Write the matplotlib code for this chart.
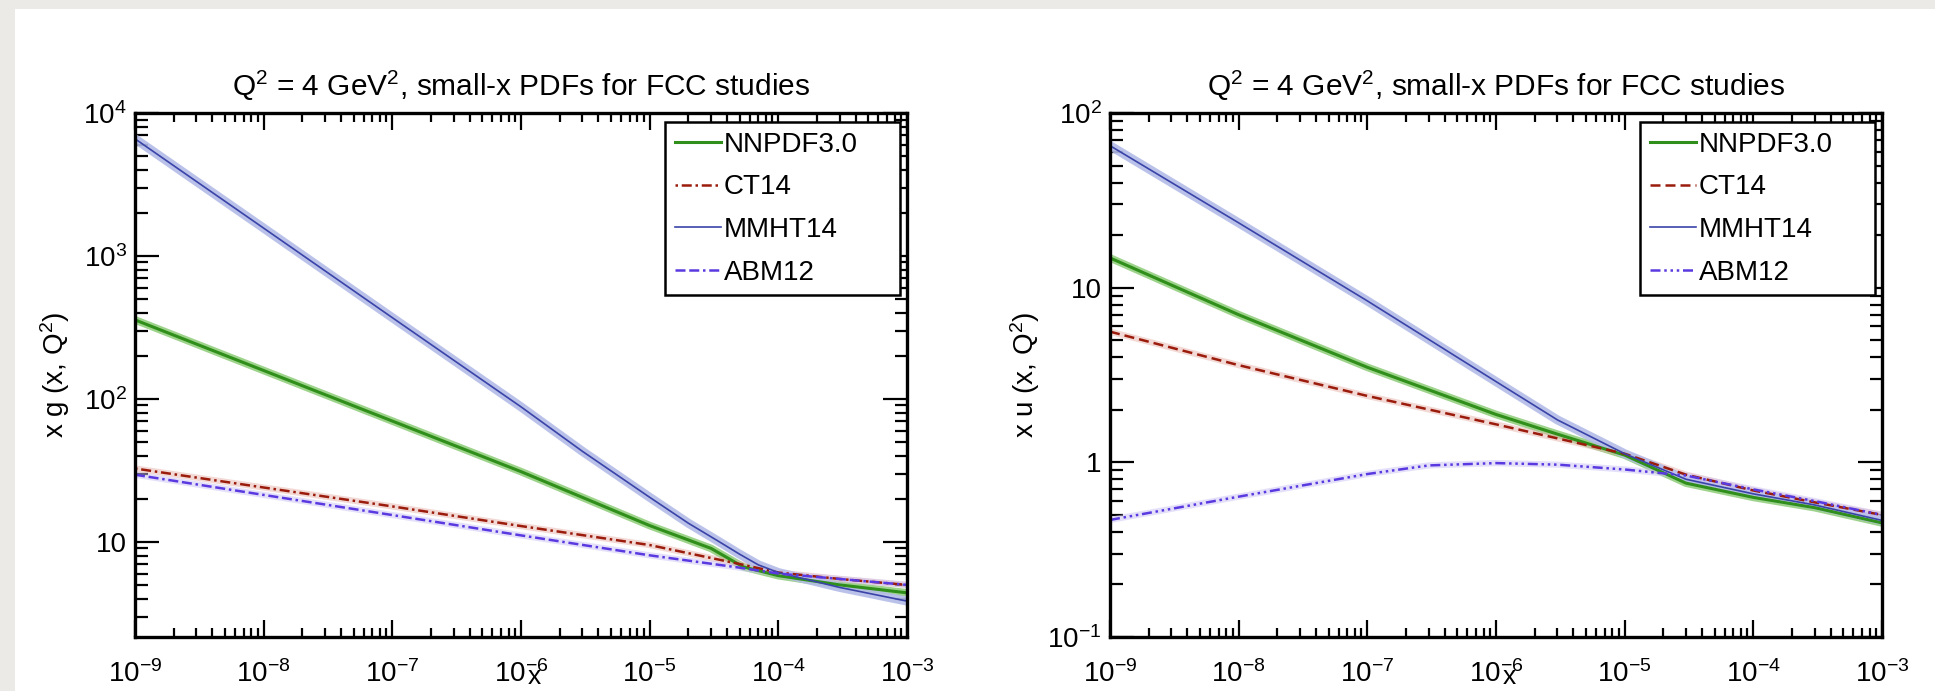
import numpy as np
import matplotlib.pyplot as plt
from matplotlib.ticker import LogLocator, FuncFormatter, NullFormatter
from matplotlib.patches import Rectangle

plt.rcParams['font.family'] = ['Liberation Sans', 'DejaVu Sans']
plt.rcParams['mathtext.fontset'] = 'custom'
plt.rcParams['mathtext.rm'] = 'Liberation Sans'
plt.rcParams['mathtext.it'] = 'Liberation Sans:italic'
plt.rcParams['mathtext.bf'] = 'Liberation Sans:bold'

# --- gluon, x g(x, Q^2) ---
x_nn_g = [1e-9, 1e-8, 1e-7, 1e-6, 1e-5, 3e-5, 5.3e-5, 1e-4, 3e-4, 1e-3]
y_nn_g = [357, 158, 70, 31, 13, 9.0, 6.7, 5.8, 5.0, 4.4]
x_ct_g = [1e-9, 1e-8, 1e-7, 1e-6, 1e-5, 5e-5, 1e-4, 3e-4, 1e-3]
y_ct_g = [32.6, 24.0, 17.7, 12.9, 9.5, 7.0, 6.1, 5.5, 5.0]
x_mm_g = [1e-9, 1e-8, 1e-7, 1e-6, 3e-6, 1e-5, 2e-5, 3.3e-5, 5e-5, 7e-5, 1e-4, 3e-4, 1e-3]
y_mm_g = [6600, 1565, 370, 88, 43, 20.5, 13.5, 10.3, 8.2, 6.9, 6.1, 4.8, 3.85]
x_abm_g = [1e-9, 1e-8, 1e-7, 1e-6, 1e-5, 5e-5, 1e-4, 3e-4, 1e-3]
y_abm_g = [29.5, 21.3, 15.4, 11.1, 8.05, 6.6, 6.0, 5.5, 5.0]

# --- up quark, x u(x, Q^2) ---
x_nn_u = [1e-9, 1e-8, 1e-7, 1e-6, 3e-6, 1e-5, 3e-5, 1e-4, 3e-4, 1e-3]
y_nn_u = [14.8, 7.0, 3.5, 1.88, 1.45, 1.1, 0.76, 0.63, 0.55, 0.45]
x_ct_u = [1e-9, 1e-8, 1e-7, 1e-6, 1e-5, 3e-5, 1e-4, 3e-4, 1e-3]
y_ct_u = [5.6, 3.6, 2.4, 1.65, 1.12, 0.85, 0.69, 0.59, 0.50]
x_mm_u = [1e-9, 1e-8, 1e-7, 1e-6, 3e-6, 1e-5, 3e-5, 1e-4, 3e-4, 1e-3]
y_mm_u = [65, 23.5, 8.4, 2.9, 1.75, 1.12, 0.80, 0.66, 0.57, 0.465]
x_abm_u = [1e-9, 1e-8, 1e-7, 3e-7, 1e-6, 3e-6, 1e-5, 3e-5, 1e-4, 3e-4, 1e-3]
y_abm_u = [0.468, 0.636, 0.857, 0.96, 0.99, 0.97, 0.91, 0.84, 0.70, 0.60, 0.50]

labels = ["NNPDF3.0", "CT14", "MMHT14", "ABM12"]
title = r"Q$^2$ = 4 GeV$^2$, small-x PDFs for FCC studies"

fig = plt.figure(figsize=(19.35, 6.91), dpi=100, facecolor='#eceae7')
fig.add_artist(Rectangle((15 / 1935, 0), 1, 1 - 9 / 691, transform=fig.transFigure,
                         facecolor='white', edgecolor='none', zorder=-10))

ax1 = fig.add_axes([135 / 1935, 54 / 691, 772 / 1935, 524 / 691])
ax2 = fig.add_axes([1110 / 1935, 54 / 691, 772 / 1935, 524 / 691])


def fmt(v, pos):
    e = int(round(np.log10(v)))
    if e == 0:
        return "1"
    if e == 1:
        return "10"
    return r"$10^{%d}$" % e


def draw(ax, xs, ys, styles, ylim, ylabel):
    c_nn, c_ct, c_mm, c_abm = '#2f8f1a', '#9b1c0c', '#3a44a8', '#5a3ae0'
    ls_ct, ls_abm = styles
    # light bands behind the central lines
    ax.plot(xs[0], ys[0], color='#86c870', lw=5.5, alpha=0.8)
    ax.plot(xs[1], ys[1], color='#e6b4ac', lw=4.5, alpha=0.5)
    ax.plot(xs[2], ys[2], color='#b4bce8', lw=6.5, alpha=0.9)
    ax.plot(xs[3], ys[3], color='#cbc2f5', lw=4.5, alpha=0.5)
    ax.plot(xs[0], ys[0], color=c_nn, lw=2.2, label=labels[0])
    ax.plot(xs[1], ys[1], color=c_ct, lw=1.8, ls=ls_ct, label=labels[1])
    ax.plot(xs[2], ys[2], color=c_mm, lw=1.2, label=labels[2])
    ax.plot(xs[3], ys[3], color=c_abm, lw=1.8, ls=ls_abm, label=labels[3])

    ax.set_xscale('log')
    ax.set_yscale('log')
    ax.set_xlim(1e-9, 1e-3)
    ax.set_ylim(*ylim)
    ax.xaxis.set_major_locator(LogLocator(base=10, numticks=20))
    ax.xaxis.set_minor_locator(LogLocator(base=10, subs=np.arange(2, 10), numticks=20))
    ax.yaxis.set_major_locator(LogLocator(base=10, numticks=20))
    ax.yaxis.set_minor_locator(LogLocator(base=10, subs=np.arange(2, 10), numticks=20))
    ax.xaxis.set_major_formatter(FuncFormatter(fmt))
    ax.yaxis.set_major_formatter(FuncFormatter(fmt))
    ax.xaxis.set_minor_formatter(NullFormatter())
    ax.yaxis.set_minor_formatter(NullFormatter())
    ax.tick_params(which='both', direction='in', top=True, right=True, width=1.6,
                   labelsize=20, colors='black')
    ax.tick_params(axis='x', which='major', length=12, pad=17)
    ax.tick_params(axis='x', which='minor', length=6.5)
    ax.tick_params(axis='y', which='major', length=17, pad=6)
    ax.tick_params(axis='y', which='minor', length=9)
    for s in ax.spines.values():
        s.set_linewidth(2.4)

    ax.text(0.5, 1.052, title, transform=ax.transAxes, ha='center', va='center', fontsize=21.5)
    ax.set_ylabel(ylabel, fontsize=20)
    ax.text(0.517, -0.076, "x", transform=ax.transAxes, ha='center', va='center', fontsize=19)

    leg = ax.legend(loc='upper left', bbox_to_anchor=(0.687, 0.983, 0.304, 0.0),
                    mode='expand', fontsize=20, frameon=True, fancybox=False,
                    edgecolor='black', framealpha=1, borderpad=0.35, labelspacing=0.6,
                    handlelength=1.65, handletextpad=0.1, borderaxespad=0)
    leg.get_frame().set_linewidth(1.8)


draw(ax1, [x_nn_g, x_ct_g, x_mm_g, x_abm_g], [y_nn_g, y_ct_g, y_mm_g, y_abm_g],
     [(0, (1, 1.5, 4, 1.5)), (0, (4, 1.5, 4, 1.5, 1, 1.5))], (2.16, 1e4), r"x g (x, Q$^2$)")
ax1.yaxis.set_label_coords(-0.082, 0.5)

draw(ax2, [x_nn_u, x_ct_u, x_mm_u, x_abm_u], [y_nn_u, y_ct_u, y_mm_u, y_abm_u],
     [(0, (4, 2)), (0, (4, 1.5, 1, 1.5, 1, 1.5, 1, 1.5))], (0.1, 100), r"x u (x, Q$^2$)")
ax2.yaxis.set_label_coords(-0.088, 0.5)

fig.savefig("out.png", dpi=100, facecolor=fig.get_facecolor())
